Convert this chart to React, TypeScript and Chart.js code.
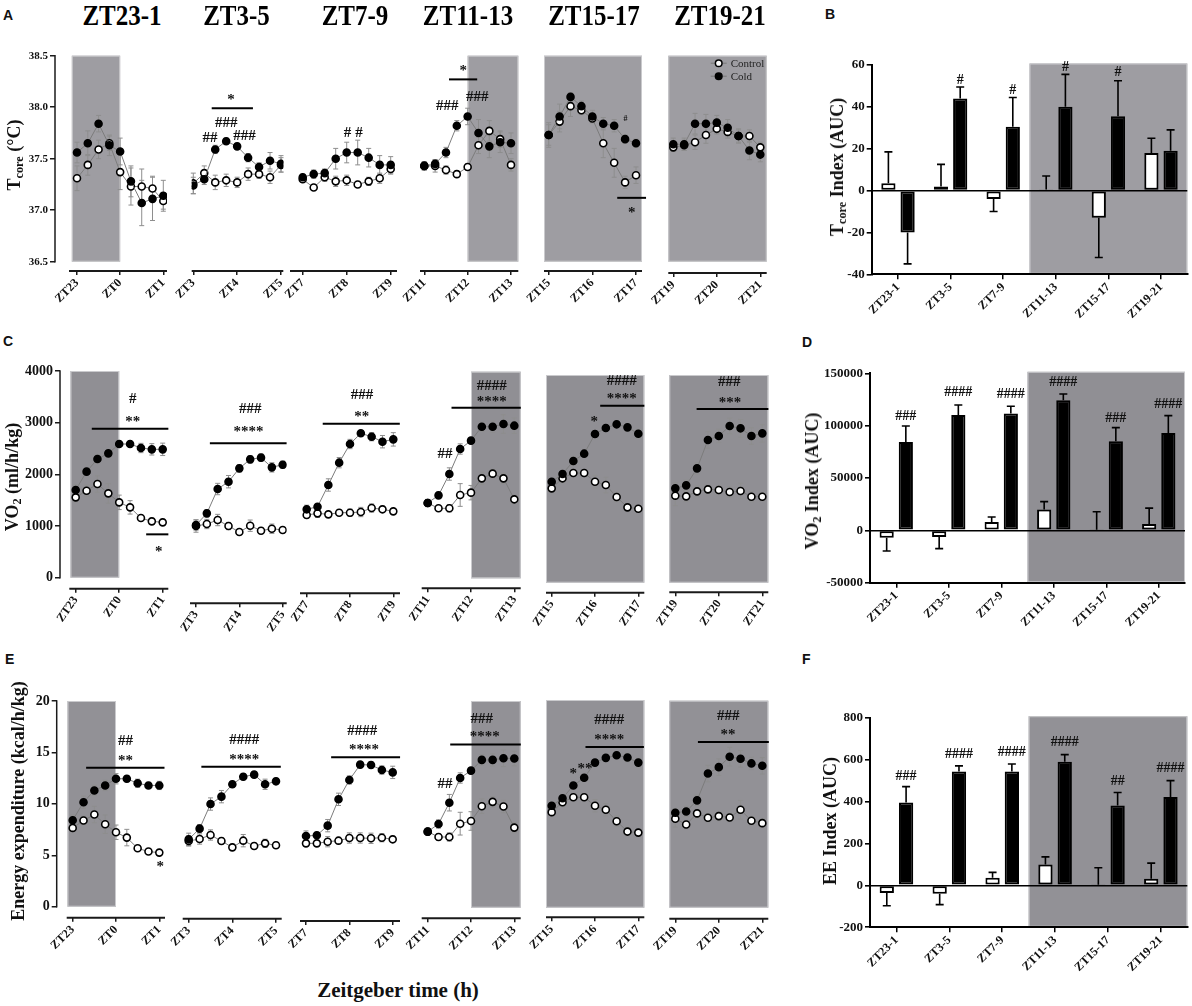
import { useEffect, useRef } from "react";
import { Chart, registerables } from "chart.js";

Chart.register(...registerables);

const SERIF = '"Liberation Serif", "Times New Roman", Times, serif';
const SANS = '"Liberation Sans", Arial, Helvetica, sans-serif';

// sampling times inside each 2 h window (h after window start)
const HOURS = [0, 0.25, 0.5, 0.75, 1, 1.25, 1.5, 1.75, 2];
const WINDOWS = ["ZT23-1", "ZT3-5", "ZT7-9", "ZT11-13", "ZT15-17", "ZT19-21"];
const WINDOW_TICKS = [
  ["ZT23", "ZT0", "ZT1"],
  ["ZT3", "ZT4", "ZT5"],
  ["ZT7", "ZT8", "ZT9"],
  ["ZT11", "ZT12", "ZT13"],
  ["ZT15", "ZT16", "ZT17"],
  ["ZT19", "ZT20", "ZT21"],
];
// lights-off part of each window in h (null = panel edge)
const DARK: ([number | null, number | null] | null)[] = [[-0.12, 1], null, null, [1, null], [null, null], [null, null]];
const AUC_DARK_FROM = 2.5; // category index where the dark phase starts

const TCORE_TICKS = [36.5, 37, 37.5, 38, 38.5];
const VO2_TICKS = [0, 1000, 2000, 3000, 4000];
const EE_TICKS = [0, 5, 10, 15, 20];

const TCORE_CONTROL = [
  [37.31, 37.44, 37.59, 37.65, 37.37, 37.23, 37.23, 37.21, 37.09],
  [37.26, 37.36, 37.27, 37.29, 37.27, 37.35, 37.35, 37.32, 37.44],
  [37.3, 37.22, 37.32, 37.28, 37.29, 37.25, 37.28, 37.31, 37.4],
  [37.43, 37.43, 37.39, 37.35, 37.42, 37.63, 37.77, 37.69, 37.44],
  [37.73, 37.86, 38.01, 37.97, 37.89, 37.65, 37.46, 37.27, 37.34],
  [37.61, 37.63, 37.66, 37.73, 37.79, 37.76, 37.72, 37.72, 37.61],
];
const TCORE_COLD = [
  [37.56, 37.65, 37.84, 37.63, 37.57, 37.28, 37.07, 37.11, 37.14],
  [37.24, 37.3, 37.59, 37.67, 37.62, 37.51, 37.42, 37.48, 37.45],
  [37.32, 37.35, 37.36, 37.5, 37.56, 37.56, 37.51, 37.44, 37.44],
  [37.43, 37.45, 37.56, 37.82, 37.91, 37.75, 37.62, 37.66, 37.65],
  [37.73, 37.91, 38.1, 38.01, 37.91, 37.84, 37.82, 37.69, 37.65],
  [37.64, 37.64, 37.84, 37.84, 37.85, 37.8, 37.72, 37.58, 37.54],
];
const TCORE_CONTROL_SEM = [
  [0.12, 0.1, 0.09, 0.07, 0.17, 0.18, 0.17, 0.12, 0.08],
  [0.1, 0.07, 0.07, 0.06, 0.05, 0.06, 0.04, 0.06, 0.07],
  [0.03, 0.02, 0.04, 0.05, 0.05, 0.03, 0.04, 0.05, 0.05],
  [0.04, 0.06, 0.04, 0.03, 0.03, 0.08, 0.1, 0.08, 0.06],
  [0.12, 0.1, 0.1, 0.04, 0.04, 0.14, 0.14, 0.06, 0.08],
  [0.04, 0.05, 0.07, 0.08, 0.05, 0.06, 0.06, 0.06, 0.05],
];
const TCORE_COLD_SEM = [
  [0.1, 0.12, 0.08, 0.1, 0.13, 0.15, 0.22, 0.21, 0.15],
  [0.08, 0.05, 0.04, 0.03, 0.03, 0.04, 0.04, 0.08, 0.08],
  [0.03, 0.04, 0.04, 0.1, 0.1, 0.12, 0.09, 0.09, 0.08],
  [0.04, 0.04, 0.05, 0.05, 0.08, 0.13, 0.11, 0.1, 0.1],
  [0.1, 0.12, 0.04, 0.05, 0.06, 0.06, 0.06, 0.04, 0.04],
  [0.06, 0.06, 0.1, 0.09, 0.07, 0.08, 0.07, 0.09, 0.07],
];

const VO2_CONTROL = [
  [1555, 1684, 1813, 1632, 1458, 1361, 1155, 1090, 1071],
  [1000, 1039, 1116, 1000, 884, 1006, 910, 948, 923],
  [1213, 1245, 1226, 1258, 1258, 1271, 1348, 1323, 1284],
  [1458, 1355, 1355, 1613, 1658, 1935, 2026, 1935, 1529],
  [1817, 2010, 2112, 2112, 1945, 1881, 1650, 1451, 1425],
  [1676, 1663, 1759, 1798, 1785, 1746, 1766, 1656, 1656],
];
const VO2_COLD = [
  [1697, 2052, 2297, 2406, 2587, 2587, 2510, 2484, 2484],
  [1019, 1245, 1716, 1858, 2116, 2290, 2323, 2135, 2187],
  [1323, 1374, 1794, 2226, 2587, 2794, 2729, 2632, 2677],
  [1458, 1606, 2019, 2503, 2665, 2935, 2935, 2987, 2955],
  [1945, 2093, 2343, 2485, 2863, 2979, 3050, 2992, 2870],
  [1817, 1875, 2202, 2748, 2825, 3018, 2973, 2825, 2876],
];
const VO2_CONTROL_SEM = [
  [90, 110, 160, 190, 140, 130, 50, 60, 60],
  [120, 90, 110, 70, 50, 110, 60, 90, 50],
  [60, 80, 50, 50, 70, 90, 80, 60, 50],
  [60, 50, 70, 220, 140, 120, 80, 100, 80],
  [50, 80, 50, 50, 120, 150, 90, 60, 40],
  [190, 100, 100, 80, 80, 100, 150, 100, 80],
];
const VO2_COLD_SEM = [
  [100, 50, 80, 50, 50, 50, 90, 110, 120],
  [100, 70, 110, 120, 70, 70, 70, 90, 70],
  [80, 50, 120, 100, 90, 50, 80, 120, 130],
  [70, 60, 120, 100, 50, 90, 110, 180, 150],
  [70, 60, 80, 40, 60, 40, 50, 70, 80],
  [110, 100, 110, 160, 130, 150, 170, 160, 170],
];

const EE_CONTROL = [
  [7.66, 8.38, 8.96, 8.02, 7.24, 6.72, 5.68, 5.36, 5.26],
  [6.39, 6.58, 6.97, 6.39, 5.77, 6.42, 5.9, 6.16, 5.97],
  [6.16, 6.16, 6.32, 6.42, 6.68, 6.68, 6.65, 6.71, 6.55],
  [7.36, 6.84, 6.84, 8.13, 8.39, 9.82, 10.24, 9.79, 7.75],
  [9.2, 10.16, 10.64, 10.64, 9.82, 9.43, 8.33, 7.33, 7.23],
  [8.59, 8.04, 9.11, 8.69, 8.85, 8.72, 9.46, 8.4, 8.17],
];
const EE_COLD = [
  [8.41, 10.16, 11.3, 11.79, 12.44, 12.44, 12.0, 11.79, 11.79],
  [6.55, 7.59, 9.98, 10.7, 11.9, 12.64, 12.84, 11.9, 12.19],
  [6.87, 6.94, 7.88, 10.44, 12.32, 13.81, 13.78, 13.29, 13.06],
  [7.36, 8.1, 10.16, 12.55, 13.26, 14.3, 14.3, 14.46, 14.43],
  [9.82, 10.54, 11.77, 12.51, 13.97, 14.43, 14.68, 14.46, 13.97],
  [9.17, 9.3, 10.37, 12.96, 13.58, 14.59, 14.39, 13.94, 13.71],
];
const EE_CONTROL_SEM = [
  [0.3, 0.4, 0.8, 0.9, 0.7, 0.8, 0.2, 0.2, 0.2],
  [0.5, 0.5, 0.5, 0.3, 0.3, 0.6, 0.3, 0.4, 0.3],
  [0.3, 0.3, 0.5, 0.3, 0.5, 0.5, 0.5, 0.4, 0.3],
  [0.3, 0.3, 0.4, 1.1, 0.9, 0.7, 0.5, 0.6, 0.5],
  [0.3, 0.4, 0.3, 0.3, 0.6, 0.6, 0.5, 0.4, 0.2],
  [0.8, 0.4, 0.4, 0.4, 0.4, 0.4, 0.9, 0.4, 0.4],
];
const EE_COLD_SEM = [
  [0.5, 0.6, 0.5, 0.5, 0.5, 0.3, 0.4, 0.3, 0.4],
  [0.6, 0.4, 0.6, 0.6, 0.3, 0.3, 0.3, 0.5, 0.3],
  [0.5, 0.3, 0.6, 0.6, 0.4, 0.3, 0.3, 0.4, 0.6],
  [0.3, 0.4, 0.8, 0.5, 0.3, 0.5, 0.6, 0.8, 0.7],
  [0.3, 0.3, 0.3, 0.3, 0.3, 0.3, 0.3, 0.4, 0.4],
  [0.4, 0.5, 0.5, 0.8, 0.8, 0.9, 0.8, 0.6, 0.8],
];

type Mark = { x: number; y: number; text: string; small?: boolean };
type Sig = { x1: number; x2: number; y: number };

// significance labels / bars (x in h, y in data units)
const TCORE_MARKS: Mark[][] = [
  [],
  [{ x: 0.86, y: 38.1, text: "*" }, { x: 0.75, y: 37.86, text: "###" }, { x: 0.38, y: 37.71, text: "##" }, { x: 1.17, y: 37.73, text: "###" }],
  [{ x: 1.02, y: 37.76, text: "#" }, { x: 1.28, y: 37.76, text: "#" }],
  [{ x: 0.9, y: 38.38, text: "*" }, { x: 0.53, y: 38.02, text: "###" }, { x: 1.22, y: 38.11, text: "###" }],
  [{ x: 1.76, y: 37.89, text: "#", small: true }, { x: 1.9, y: 37.0, text: "*" }],
  [],
];
const TCORE_SIGS: Sig[][] = [[], [{ x1: 0.42, x2: 1.36, y: 37.99 }], [], [{ x1: 0.57, x2: 1.22, y: 38.27 }], [{ x1: 1.57, x2: 2.23, y: 37.12 }], []];

const VO2_MARKS: Mark[][] = [
  [{ x: 1.31, y: 3484, text: "#" }, { x: 1.31, y: 3071, text: "**" }, { x: 1.91, y: 568, text: "*" }],
  [{ x: 1.25, y: 3277, text: "###" }, { x: 1.21, y: 2877, text: "****" }],
  [{ x: 1.28, y: 3548, text: "###" }, { x: 1.27, y: 3181, text: "**" }],
  [{ x: 1.48, y: 3742, text: "####" }, { x: 1.48, y: 3471, text: "****" }, { x: 0.4, y: 2419, text: "##" }],
  [{ x: 1.62, y: 3904, text: "####" }, { x: 1.62, y: 3595, text: "****" }, { x: 0.98, y: 3165, text: "*" }],
  [{ x: 1.24, y: 3884, text: "###" }, { x: 1.26, y: 3531, text: "***" }],
];
const VO2_SIGS: Sig[][] = [
  [{ x1: 0.37, x2: 2.13, y: 2884 }, { x1: 1.62, x2: 2.13, y: 839 }],
  [{ x1: 0.32, x2: 2.09, y: 2600 }],
  [{ x1: 0.37, x2: 2.15, y: 2981 }],
  [{ x1: 0.55, x2: 2.15, y: 3303 }],
  [{ x1: 1.12, x2: 2.14, y: 3409 }],
  [{ x1: 0.49, x2: 2.14, y: 3345 }],
];

const EE_MARKS: Mark[][] = [
  [{ x: 1.22, y: 16.2, text: "##" }, { x: 1.22, y: 14.5, text: "**" }, { x: 2.02, y: 4.15, text: "*" }],
  [{ x: 1.27, y: 16.3, text: "####" }, { x: 1.27, y: 14.54, text: "****" }],
  [{ x: 1.3, y: 17.2, text: "####" }, { x: 1.34, y: 15.5, text: "****" }],
  [{ x: 1.25, y: 18.38, text: "###" }, { x: 1.32, y: 16.86, text: "****" }, { x: 0.4, y: 12.1, text: "##" }],
  [{ x: 1.33, y: 18.16, text: "####" }, { x: 1.33, y: 16.44, text: "****" }, { x: 0.5, y: 13.2, text: "*" }, { x: 0.77, y: 13.69, text: "**" }],
  [{ x: 1.22, y: 18.6, text: "###" }, { x: 1.21, y: 17.0, text: "**" }],
];
const EE_SIGS: Sig[][] = [
  [{ x1: 0.31, x2: 2.12, y: 13.52 }],
  [{ x1: 0.29, x2: 2.11, y: 13.6 }],
  [{ x1: 0.58, x2: 2.17, y: 14.52 }],
  [{ x1: 0.52, x2: 2.15, y: 15.8 }],
  [{ x1: 0.78, x2: 2.13, y: 15.47 }],
  [{ x1: 0.52, x2: 2.15, y: 16.0 }],
];

// AUC indices
const TCORE_AUC_CONTROL = [3.5, 2, -4, 0.5, -13, 18];
const TCORE_AUC_CONTROL_SEM = [15, 10.5, 6, 6.5, 19, 7];
const TCORE_AUC_COLD = [-20, 44, 30.5, 40, 35.5, 19];
const TCORE_AUC_COLD_SEM = [15, 5.5, 14, 15.5, 17, 10];
const TCORE_AUC_MARKS = ["", "#", "#", "#", "#", ""];
const TCORE_AUC_MARK_Y = [0, 53, 48.4, 59.2, 56.8, 0];

const VO2_AUC_CONTROL = [-7000, -6400, 8000, 20000, 600, 6000];
const VO2_AUC_CONTROL_SEM = [12700, 11100, 4700, 7400, 17200, 15200];
const VO2_AUC_COLD = [84400, 110200, 111500, 124200, 85000, 93000];
const VO2_AUC_COLD_SEM = [15300, 9500, 7000, 6100, 13100, 16600];
const VO2_AUC_MARKS = ["###", "####", "####", "####", "###", "####"];
const VO2_AUC_MARK_Y = [109900, 133100, 130600, 142400, 108300, 121000];

const EE_AUC_CONTROL = [-36, -40, 36, 100, 3, 32];
const EE_AUC_CONTROL_SEM = [61, 52, 26, 36, 81, 74];
const EE_AUC_COLD = [395, 543, 543, 590, 381, 422];
const EE_AUC_COLD_SEM = [76, 27, 36, 34, 62, 78];
const EE_AUC_MARKS = ["###", "####", "####", "####", "##", "####"];
const EE_AUC_MARK_Y = [527, 630, 638, 686, 503, 562];

// ---- layout (page pixels) ----
type Frame = { ax0: number; ax1: number; t0: number; t2: number; top: number; bottom: number; axis: number };

const FRAMES_A: Frame[] = [
  { ax0: 69, ax1: 167, t0: 77, t2: 163.3, top: 55.7, bottom: 261.7, axis: 271 },
  { ax0: 191.7, ax1: 283.3, t0: 193.3, t2: 281, top: 55.7, bottom: 261.7, axis: 271 },
  { ax0: 290, ax1: 397, t0: 302.7, t2: 390.7, top: 55.7, bottom: 261.7, axis: 271 },
  { ax0: 420, ax1: 518.3, t0: 424.3, t2: 511, top: 55.7, bottom: 261.7, axis: 271 },
  { ax0: 544, ax1: 642, t0: 548.7, t2: 636, top: 55.7, bottom: 261.7, axis: 271 },
  { ax0: 668.3, ax1: 766.7, t0: 673.3, t2: 760.3, top: 55.7, bottom: 261.7, axis: 273 },
];
const FRAMES_C: Frame[] = [
  { ax0: 69.3, ax1: 168.3, t0: 75.7, t2: 162.7, top: 371, bottom: 577.7, axis: 588.7 },
  { ax0: 190, ax1: 286.7, t0: 196, t2: 282.7, top: 371, bottom: 577.7, axis: 603.3 },
  { ax0: 300, ax1: 400, t0: 306.7, t2: 393.3, top: 371, bottom: 577.7, axis: 593.3 },
  { ax0: 421.7, ax1: 520.7, t0: 427.7, t2: 514.3, top: 371.7, bottom: 578.3, axis: 588.3 },
  { ax0: 546, ax1: 644.3, t0: 551.7, t2: 638.3, top: 375, bottom: 582.7, axis: 592.7 },
  { ax0: 669.3, ax1: 768.3, t0: 675.3, t2: 762.3, top: 375, bottom: 582.7, axis: 592.3 },
];
const FRAMES_E: Frame[] = [
  { ax0: 66.7, ax1: 165, t0: 72.7, t2: 159.3, top: 701, bottom: 906.7, axis: 917.7 },
  { ax0: 182.7, ax1: 281.7, t0: 188.7, t2: 276, top: 701, bottom: 906.7, axis: 918.7 },
  { ax0: 300, ax1: 400, t0: 306, t2: 392.7, top: 701, bottom: 906.7, axis: 921 },
  { ax0: 421.7, ax1: 520.7, t0: 427.7, t2: 514.3, top: 701, bottom: 907.7, axis: 918.3 },
  { ax0: 546, ax1: 644.3, t0: 551.7, t2: 638.3, top: 700, bottom: 907.7, axis: 917.3 },
  { ax0: 669.3, ax1: 768.3, t0: 675.3, t2: 762.3, top: 700.7, bottom: 907.7, axis: 918.7 },
];

type LineRow = {
  key: string;
  control: number[][];
  cold: number[][];
  controlSem: number[][];
  coldSem: number[][];
  ticks: number[];
  decimals: number;
  tickFont: number;
  rotation: number;
  marks: Mark[][];
  sigs: Sig[][];
  frames: Frame[];
  yAxisX: number;
  shade: string;
  legend: boolean;
};

const LINE_ROWS: LineRow[] = [
  { key: "tcore", control: TCORE_CONTROL, cold: TCORE_COLD, controlSem: TCORE_CONTROL_SEM, coldSem: TCORE_COLD_SEM, ticks: TCORE_TICKS, decimals: 1, tickFont: 11, rotation: 45, marks: TCORE_MARKS, sigs: TCORE_SIGS, frames: FRAMES_A, yAxisX: 55, shade: "#9e9da2", legend: true },
  { key: "vo2", control: VO2_CONTROL, cold: VO2_COLD, controlSem: VO2_CONTROL_SEM, coldSem: VO2_COLD_SEM, ticks: VO2_TICKS, decimals: 0, tickFont: 14, rotation: 55, marks: VO2_MARKS, sigs: VO2_SIGS, frames: FRAMES_C, yAxisX: 60, shade: "#908f94", legend: false },
  { key: "ee", control: EE_CONTROL, cold: EE_COLD, controlSem: EE_CONTROL_SEM, coldSem: EE_COLD_SEM, ticks: EE_TICKS, decimals: 0, tickFont: 14, rotation: 45, marks: EE_MARKS, sigs: EE_SIGS, frames: FRAMES_E, yAxisX: 56.7, shade: "#929196", legend: false },
];

type BarFrame = { yAxisX: number; right: number; top: number; bottom: number };
type BarSpec = {
  key: string;
  control: number[];
  controlSem: number[];
  cold: number[];
  coldSem: number[];
  marks: string[];
  markY: number[];
  min: number;
  max: number;
  step: number;
  frame: BarFrame;
  shade: string;
};

const BAR_PANELS: BarSpec[] = [
  { key: "tcoreAuc", control: TCORE_AUC_CONTROL, controlSem: TCORE_AUC_CONTROL_SEM, cold: TCORE_AUC_COLD, coldSem: TCORE_AUC_COLD_SEM, marks: TCORE_AUC_MARKS, markY: TCORE_AUC_MARK_Y, min: -40, max: 60, step: 20, frame: { yAxisX: 871.7, right: 1187.3, top: 65, bottom: 274.3 }, shade: "#9e9da2" },
  { key: "vo2Auc", control: VO2_AUC_CONTROL, controlSem: VO2_AUC_CONTROL_SEM, cold: VO2_AUC_COLD, coldSem: VO2_AUC_COLD_SEM, marks: VO2_AUC_MARKS, markY: VO2_AUC_MARK_Y, min: -50000, max: 150000, step: 50000, frame: { yAxisX: 870, right: 1185, top: 373.3, bottom: 582.7 }, shade: "#908f94" },
  { key: "eeAuc", control: EE_AUC_CONTROL, controlSem: EE_AUC_CONTROL_SEM, cold: EE_AUC_COLD, coldSem: EE_AUC_COLD_SEM, marks: EE_AUC_MARKS, markY: EE_AUC_MARK_Y, min: -200, max: 800, step: 200, frame: { yAxisX: 870, right: 1187.3, top: 717.7, bottom: 927.3 }, shade: "#929196" },
];

const PAD_L = 28;
const PAD_R = 16;
const PAD_T = 14;
const Y_W = 44;
const X_H = 40;
const BPAD_L = 4;
const BPAD_R = 3;
const YB_W = 58;
const XB_H = 56;

function lineBox(row: LineRow, p: number) {
  const f = row.frames[p];
  const plotLeft = p === 0 ? row.yAxisX : f.ax0;
  const inner = p === 0 ? Y_W : 0;
  const left = Math.round(plotLeft - inner - PAD_L);
  const top = Math.round(f.top - PAD_T);
  const width = Math.round(f.ax1 + PAD_R - left);
  const height = Math.round(f.axis + X_H - top);
  return { left, top, width, height, plotLeft, inner };
}

function barBox(b: BarSpec) {
  const f = b.frame;
  const left = Math.round(f.yAxisX - YB_W - BPAD_L);
  const top = Math.round(f.top - PAD_T);
  const width = Math.round(f.right + BPAD_R - left);
  const height = Math.round(f.bottom + XB_H - top);
  return { left, top, width, height };
}

function drawMark(ctx: CanvasRenderingContext2D, text: string, x: number, y: number, size: number) {
  ctx.font = `bold ${size}px ${SERIF}`;
  ctx.textAlign = "center";
  ctx.textBaseline = "alphabetic";
  const lift = text.charAt(0) === "*" ? 0.48 : 0.34;
  ctx.fillText(text, x, y + lift * size);
}

function makeLinePanel(canvas: HTMLCanvasElement, row: LineRow, p: number): Chart {
  const f = row.frames[p];
  const box = lineBox(row, p);
  const pxPerH = (f.t2 - f.t0) / 2;
  const xMin = (box.plotLeft - f.t0) / pxPerH;
  const xMax = (f.ax1 - f.t0) / pxPerH;
  const lineStart = (f.ax0 - f.t0) / pxPerH;
  const yMax = row.ticks[row.ticks.length - 1];
  const yLow = row.ticks[0];
  const yMin = yMax - ((f.axis - f.top) * (yMax - yLow)) / (f.bottom - f.top);
  const showY = p === 0;
  const labels = WINDOW_TICKS[p];
  const dark = DARK[p];
  const sems = [row.controlSem[p], row.coldSem[p]];
  const vals = [row.control[p], row.cold[p]];
  const font = { family: SERIF, size: row.tickFont, weight: "bold" as const };

  const overlay = {
    id: "panelOverlay",
    beforeDraw(chart: any) {
      if (!dark) return;
      const { ctx, chartArea } = chart;
      const xs = chart.scales.x;
      const ys = chart.scales.y;
      const x1 = dark[0] === null ? chartArea.left : xs.getPixelForValue(dark[0]);
      const x2 = dark[1] === null ? chartArea.right : xs.getPixelForValue(dark[1]);
      const y1 = ys.getPixelForValue(yMax);
      const y2 = ys.getPixelForValue(yLow);
      ctx.save();
      ctx.fillStyle = row.shade;
      ctx.fillRect(x1, y1, x2 - x1, y2 - y1);
      ctx.strokeStyle = "#cacacd";
      ctx.lineWidth = 1;
      ctx.strokeRect(x1 + 0.5, y1 + 0.5, x2 - x1 - 1, y2 - y1 - 1);
      ctx.restore();
    },
    beforeDatasetsDraw(chart: any) {
      const { ctx } = chart;
      const ys = chart.scales.y;
      ctx.save();
      ctx.strokeStyle = "#8e8e8e";
      ctx.lineWidth = 1;
      [0, 1].forEach((di) => {
        const meta = chart.getDatasetMeta(di);
        vals[di].forEach((v, i) => {
          const el = meta.data[i];
          if (!el) return;
          const hi = ys.getPixelForValue(v + sems[di][i]);
          const lo = ys.getPixelForValue(v - sems[di][i]);
          ctx.beginPath();
          ctx.moveTo(el.x, hi);
          ctx.lineTo(el.x, lo);
          ctx.moveTo(el.x - 2.5, hi);
          ctx.lineTo(el.x + 2.5, hi);
          ctx.moveTo(el.x - 2.5, lo);
          ctx.lineTo(el.x + 2.5, lo);
          ctx.stroke();
        });
      });
      ctx.restore();
    },
    afterDraw(chart: any) {
      const { ctx, chartArea } = chart;
      const xs = chart.scales.x;
      const ys = chart.scales.y;
      ctx.save();
      ctx.strokeStyle = "#1a1a1a";
      ctx.lineWidth = 2;
      ctx.beginPath();
      ctx.moveTo(xs.getPixelForValue(lineStart), chartArea.bottom);
      ctx.lineTo(chartArea.right, chartArea.bottom);
      ctx.stroke();
      if (showY) {
        ctx.lineWidth = 1.5;
        ctx.beginPath();
        ctx.moveTo(chartArea.left, ys.getPixelForValue(yMax) - 0.75);
        ctx.lineTo(chartArea.left, ys.getPixelForValue(yLow) + 0.75);
        ctx.stroke();
      }
      ctx.strokeStyle = "#000";
      ctx.lineWidth = 2;
      row.sigs[p].forEach((s) => {
        const y = ys.getPixelForValue(s.y);
        ctx.beginPath();
        ctx.moveTo(xs.getPixelForValue(s.x1), y);
        ctx.lineTo(xs.getPixelForValue(s.x2), y);
        ctx.stroke();
      });
      ctx.fillStyle = "#111";
      row.marks[p].forEach((m) => {
        drawMark(ctx, m.text, xs.getPixelForValue(m.x), ys.getPixelForValue(m.y), m.small ? 8 : 15);
      });
      if (row.legend && p === WINDOWS.length - 1) {
        const lx = chartArea.right - 48;
        chart.data.datasets.forEach((ds: any, i: number) => {
          const y = chartArea.top + 7.5 + i * 13;
          ctx.strokeStyle = "#777";
          ctx.lineWidth = 1;
          ctx.beginPath();
          ctx.moveTo(lx - 8, y);
          ctx.lineTo(lx + 8, y);
          ctx.stroke();
          ctx.beginPath();
          ctx.arc(lx, y, 3.3, 0, Math.PI * 2);
          ctx.fillStyle = ds.backgroundColor;
          ctx.fill();
          ctx.strokeStyle = "#000";
          ctx.lineWidth = 1.5;
          ctx.stroke();
          ctx.fillStyle = "#222";
          ctx.font = `11px ${SERIF}`;
          ctx.textAlign = "left";
          ctx.textBaseline = "middle";
          ctx.fillText(ds.label, lx + 12, y + 0.5);
        });
      }
      ctx.restore();
    },
  };

  const mkSet = (label: string, values: number[], fill: string, order: number) => ({
    label,
    data: HOURS.map((h, i) => ({ x: h, y: values[i] })),
    borderColor: "#7c7c7c",
    borderWidth: 1,
    backgroundColor: fill,
    pointBackgroundColor: fill,
    pointBorderColor: "#000",
    pointBorderWidth: 1.6,
    pointRadius: 3.5,
    pointHoverRadius: 3.5,
    tension: 0,
    order,
  });

  return new Chart(canvas, {
    type: "line",
    data: {
      datasets: [mkSet("Control", row.control[p], "#ffffff", 1), mkSet("Cold", row.cold[p], "#000000", 0)],
    },
    options: {
      responsive: false,
      animation: false,
      events: [],
      layout: {
        padding: {
          left: box.plotLeft - box.inner - box.left,
          right: box.left + box.width - f.ax1,
          top: f.top - box.top,
          bottom: 0,
        },
      },
      plugins: { legend: { display: false }, tooltip: { enabled: false } },
      scales: {
        x: {
          type: "linear",
          min: xMin,
          max: xMax,
          afterBuildTicks: (s: any) => {
            s.ticks = [0, 1, 2].map((v) => ({ value: v }));
          },
          afterFit: (s: any) => {
            s.height = box.top + box.height - f.axis;
            s.paddingLeft = 0;
            s.paddingRight = 0;
          },
          border: { display: false },
          grid: { drawOnChartArea: false, drawTicks: true, tickLength: 4, color: "#1a1a1a", lineWidth: 1.5 },
          ticks: {
            autoSkip: false,
            minRotation: row.rotation,
            maxRotation: row.rotation,
            padding: 1,
            color: "#111",
            font: { family: SERIF, size: 12, weight: "bold" },
            callback: (_v: any, i: number) => labels[i],
          },
        },
        y: {
          display: showY,
          min: yMin,
          max: yMax,
          afterBuildTicks: (s: any) => {
            s.ticks = row.ticks.map((v) => ({ value: v }));
          },
          afterFit: (s: any) => {
            if (showY) s.width = Y_W;
            s.paddingTop = 0;
            s.paddingBottom = 0;
          },
          border: { display: false },
          grid: { drawOnChartArea: false, tickLength: 5, color: "#1a1a1a", lineWidth: 1.5 },
          ticks: {
            padding: 2,
            color: "#111",
            font,
            callback: (v: any) => Number(v).toFixed(row.decimals),
          },
        },
      },
    },
    plugins: [overlay],
  } as any);
}

function makeBarPanel(canvas: HTMLCanvasElement, b: BarSpec): Chart {
  const f = b.frame;
  const box = barBox(b);
  const sems = [b.controlSem, b.coldSem];
  const vals = [b.control, b.cold];

  const overlay = {
    id: "aucOverlay",
    beforeDraw(chart: any) {
      const { ctx, chartArea } = chart;
      const x1 = chart.scales.x.getPixelForValue(AUC_DARK_FROM);
      ctx.save();
      ctx.fillStyle = b.shade;
      ctx.fillRect(x1, chartArea.top - 1.5, chartArea.right - x1, chartArea.bottom - chartArea.top + 1.5);
      ctx.strokeStyle = "#cacacd";
      ctx.lineWidth = 1;
      ctx.strokeRect(x1 + 0.5, chartArea.top - 1, chartArea.right - x1 - 1, chartArea.bottom - chartArea.top);
      ctx.restore();
    },
    afterDatasetsDraw(chart: any) {
      const { ctx } = chart;
      const ys = chart.scales.y;
      ctx.save();
      ctx.strokeStyle = "#000";
      ctx.lineWidth = 1.6;
      [0, 1].forEach((di) => {
        const meta = chart.getDatasetMeta(di);
        vals[di].forEach((v, i) => {
          const el = meta.data[i];
          const end = v >= 0 ? v + sems[di][i] : v - sems[di][i];
          const y0 = ys.getPixelForValue(v);
          const y1 = ys.getPixelForValue(end);
          ctx.beginPath();
          ctx.moveTo(el.x, y0);
          ctx.lineTo(el.x, y1);
          ctx.moveTo(el.x - 4, y1);
          ctx.lineTo(el.x + 4, y1);
          ctx.stroke();
        });
      });
      const cold = chart.getDatasetMeta(1);
      ctx.fillStyle = "#111";
      b.marks.forEach((m, i) => {
        if (!m) return;
        drawMark(ctx, m, cold.data[i].x, ys.getPixelForValue(b.markY[i]), 14);
      });
      ctx.restore();
    },
  };

  const barSet = (label: string, data: number[], fill: string) => ({
    label,
    data,
    backgroundColor: fill,
    borderColor: "#000",
    borderWidth: 2,
    borderSkipped: false,
    categoryPercentage: 0.73,
    barPercentage: 0.74,
  });

  return new Chart(canvas, {
    type: "bar",
    data: {
      labels: WINDOWS,
      datasets: [barSet("Control", b.control, "#ffffff"), barSet("Cold", b.cold, "#000000")],
    },
    options: {
      responsive: false,
      animation: false,
      events: [],
      layout: {
        padding: {
          left: f.yAxisX - YB_W - box.left,
          right: box.left + box.width - f.right,
          top: f.top - box.top,
          bottom: 0,
        },
      },
      plugins: { legend: { display: false }, tooltip: { enabled: false } },
      scales: {
        x: {
          afterFit: (s: any) => {
            s.height = box.top + box.height - f.bottom;
            s.paddingLeft = 0;
            s.paddingRight = 0;
          },
          border: { display: true, color: "#000", width: 2 },
          grid: { offset: false, drawOnChartArea: false, tickLength: 5, color: "#000", lineWidth: 1.5 },
          ticks: {
            autoSkip: false,
            minRotation: 45,
            maxRotation: 45,
            padding: 1,
            color: "#111",
            font: { family: SERIF, size: 12, weight: "bold" },
          },
        },
        y: {
          min: b.min,
          max: b.max,
          afterFit: (s: any) => {
            s.width = YB_W;
            s.paddingTop = 0;
            s.paddingBottom = 0;
          },
          border: { display: true, color: "#000", width: 2 },
          grid: {
            drawOnChartArea: true,
            color: (c: any) => (c.tick && c.tick.value === 0 ? "#000" : "rgba(0,0,0,0)"),
            tickColor: "#000",
            lineWidth: 1.6,
            tickLength: 5,
          },
          ticks: {
            stepSize: b.step,
            padding: 2,
            color: "#111",
            font: { family: SERIF, size: 13, weight: "bold" },
            callback: (v: any) => String(v),
          },
        },
      },
    },
    plugins: [overlay],
  } as any);
}

const COLUMN_CENTERS = [122, 236.5, 355, 468, 594, 720];

function VTitle({ cx, cy, size, children }: { cx: number; cy: number; size: number; children: any }) {
  return (
    <div
      style={{
        position: "absolute",
        left: cx,
        top: cy,
        transform: "translate(-50%, -50%) rotate(-90deg)",
        whiteSpace: "nowrap",
        font: `bold ${size}px ${SERIF}`,
        lineHeight: 1,
        color: "#111",
      }}
    >
      {children}
    </div>
  );
}

const subStyle = { fontSize: "0.68em", verticalAlign: "-0.25em", lineHeight: 0 };

function Letter({ x, y, t }: { x: number; y: number; t: string }) {
  return (
    <div style={{ position: "absolute", left: x, top: y, font: `bold 14px ${SANS}`, lineHeight: "14px", color: "#111" }}>{t}</div>
  );
}

export default function App() {
  const canvases = useRef<Record<string, HTMLCanvasElement | null>>({});

  useEffect(() => {
    const charts: Chart[] = [];
    LINE_ROWS.forEach((row) => {
      row.frames.forEach((_f, p) => {
        const c = canvases.current[`${row.key}-${p}`];
        if (c) charts.push(makeLinePanel(c, row, p));
      });
    });
    BAR_PANELS.forEach((b) => {
      const c = canvases.current[b.key];
      if (c) charts.push(makeBarPanel(c, b));
    });
    return () => charts.forEach((ch) => ch.destroy());
  }, []);

  return (
    <div style={{ position: "absolute", left: 0, top: 0, width: 1192, height: 1006, background: "#fff", overflow: "hidden", fontFamily: SERIF }}>
      {LINE_ROWS.map((row) =>
        row.frames.map((_f, p) => {
          const g = lineBox(row, p);
          return (
            <canvas
              key={`${row.key}-${p}`}
              ref={(el) => {
                canvases.current[`${row.key}-${p}`] = el;
              }}
              width={g.width}
              height={g.height}
              style={{ position: "absolute", left: g.left, top: g.top, width: g.width, height: g.height }}
            />
          );
        })
      )}
      {BAR_PANELS.map((b) => {
        const g = barBox(b);
        return (
          <canvas
            key={b.key}
            ref={(el) => {
              canvases.current[b.key] = el;
            }}
            width={g.width}
            height={g.height}
            style={{ position: "absolute", left: g.left, top: g.top, width: g.width, height: g.height }}
          />
        );
      })}

      {WINDOWS.map((w, i) => (
        <div
          key={w}
          style={{
            position: "absolute",
            left: COLUMN_CENTERS[i] - 80,
            top: 0,
            width: 160,
            textAlign: "center",
            font: `bold 25px ${SERIF}`,
            lineHeight: "25px",
            transform: "scaleY(1.2)",
            transformOrigin: "50% 0",
            color: "#000",
          }}
        >
          {w}
        </div>
      ))}

      <Letter x={3} y={8} t="A" />
      <Letter x={825} y={7} t="B" />
      <Letter x={3} y={334} t="C" />
      <Letter x={802} y={335} t="D" />
      <Letter x={5} y={652} t="E" />
      <Letter x={802} y={652} t="F" />

      <VTitle cx={14} cy={155} size={18}>
        T<sub style={subStyle}>core</sub> (°C)
      </VTitle>
      <VTitle cx={12} cy={477} size={18}>
        VO<sub style={subStyle}>2</sub> (ml/h/kg)
      </VTitle>
      <VTitle cx={18} cy={801} size={18}>
        Energy expenditure (kcal/h/kg)
      </VTitle>
      <VTitle cx={837} cy={167} size={18}>
        T<sub style={subStyle}>core</sub> Index (AUC)
      </VTitle>
      <VTitle cx={812} cy={481} size={18}>
        VO<sub style={subStyle}>2</sub> Index (AUC)
      </VTitle>
      <VTitle cx={830} cy={821} size={18}>
        EE Index (AUC)
      </VTitle>

      <div
        style={{
          position: "absolute",
          left: 398,
          top: 990,
          transform: "translate(-50%, -50%)",
          whiteSpace: "nowrap",
          font: `bold 21px ${SERIF}`,
          lineHeight: 1,
          color: "#111",
        }}
      >
        Zeitgeber time (h)
      </div>
    </div>
  );
}
